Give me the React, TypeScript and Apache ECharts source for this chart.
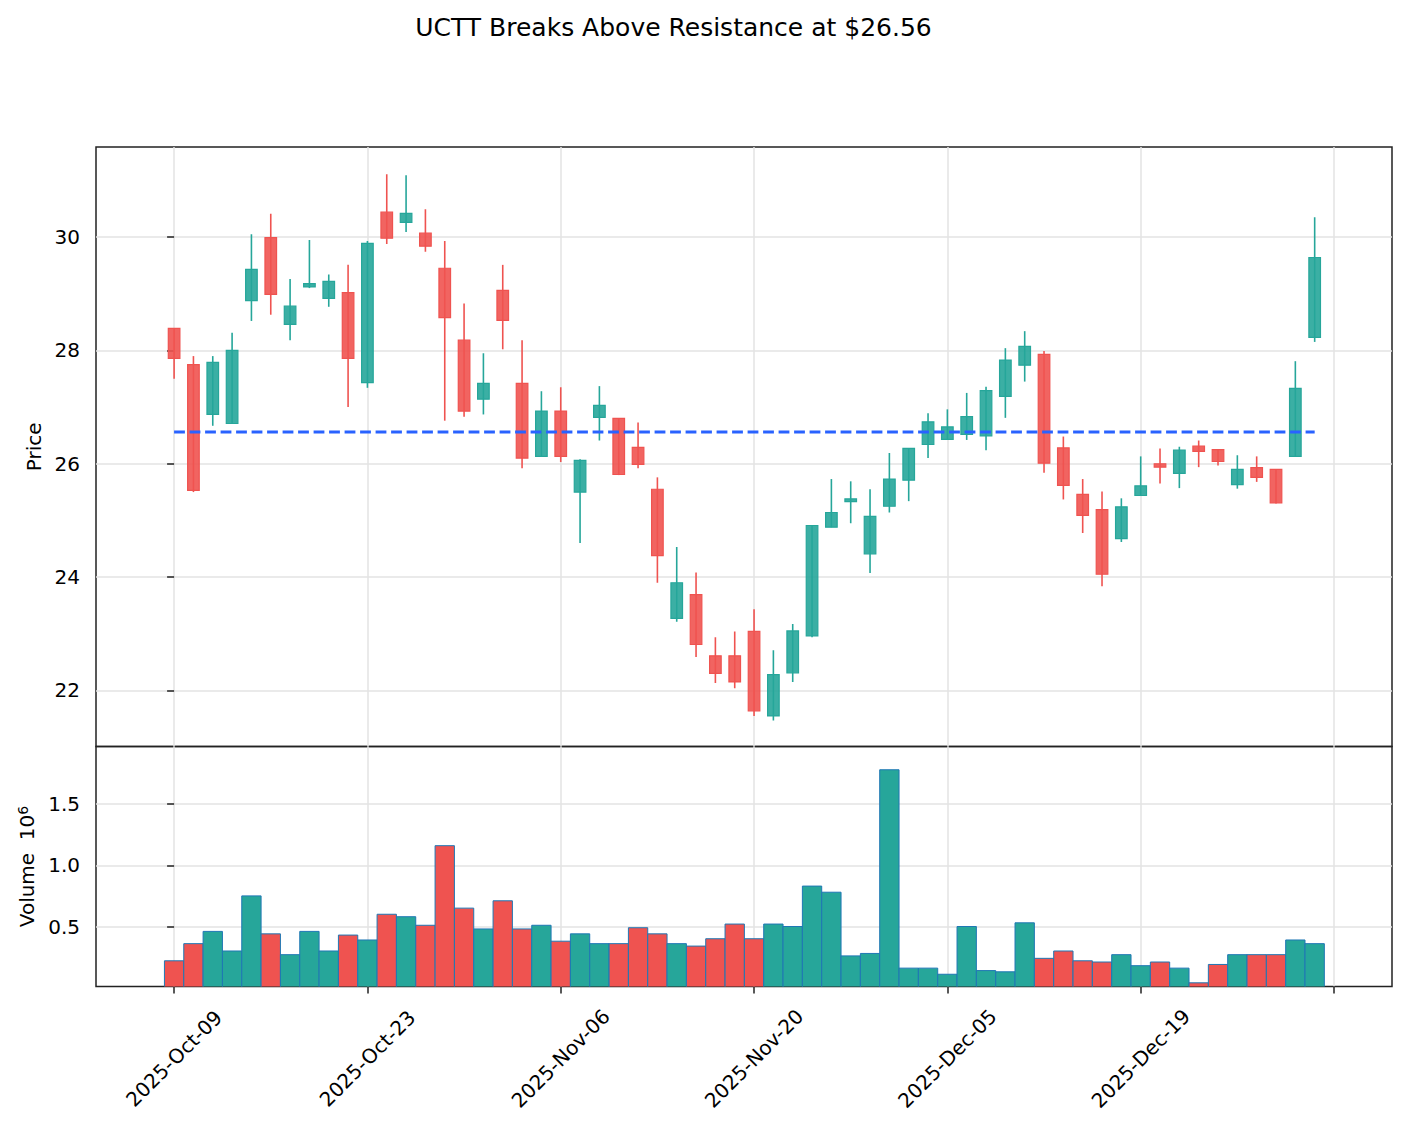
import React, { useEffect, useRef } from 'react';
import * as echarts from 'echarts';

const dates = [
  '2025-Oct-09', '2025-Oct-10', '2025-Oct-13', '2025-Oct-14', '2025-Oct-15', '2025-Oct-16', '2025-Oct-17', '2025-Oct-20', '2025-Oct-21', '2025-Oct-22',
  '2025-Oct-23', '2025-Oct-24', '2025-Oct-27', '2025-Oct-28', '2025-Oct-29', '2025-Oct-30', '2025-Oct-31', '2025-Nov-03', '2025-Nov-04', '2025-Nov-05',
  '2025-Nov-06', '2025-Nov-07', '2025-Nov-10', '2025-Nov-11', '2025-Nov-12', '2025-Nov-13', '2025-Nov-14', '2025-Nov-17', '2025-Nov-18', '2025-Nov-19',
  '2025-Nov-20', '2025-Nov-21', '2025-Nov-24', '2025-Nov-25', '2025-Nov-26', '2025-Nov-28', '2025-Dec-01', '2025-Dec-02', '2025-Dec-03', '2025-Dec-04',
  '2025-Dec-05', '2025-Dec-08', '2025-Dec-09', '2025-Dec-10', '2025-Dec-11', '2025-Dec-12', '2025-Dec-15', '2025-Dec-16', '2025-Dec-17', '2025-Dec-18',
  '2025-Dec-19', '2025-Dec-22', '2025-Dec-23', '2025-Dec-24', '2025-Dec-26', '2025-Dec-29', '2025-Dec-30', '2025-Dec-31', '2026-Jan-02', '2026-Jan-05',
];

const opens = [
  28.39, 27.75, 26.87, 26.71, 28.88, 29.99, 28.46, 29.12, 28.92, 29.02,
  27.43, 30.44, 30.26, 30.07, 29.45, 28.18, 27.14, 29.06, 27.42, 26.13,
  26.93, 25.50, 26.82, 26.80, 26.29, 25.55, 23.27, 23.69, 22.61, 22.61,
  23.04, 21.55, 22.31, 22.96, 24.88, 25.33, 24.41, 25.25, 25.71, 26.34,
  26.43, 26.52, 26.49, 27.19, 27.74, 27.93, 26.28, 25.46, 25.19, 24.68,
  25.44, 26.00, 25.83, 26.31, 26.25, 25.63, 25.93, 25.90, 26.13, 28.23,
];
const highs = [
  28.39, 27.90, 27.90, 28.31, 30.05, 30.41, 29.26, 29.95, 29.34, 29.51,
  29.93, 31.11, 31.09, 30.49, 29.93, 28.83, 27.95, 29.51, 28.18, 27.28,
  27.35, 26.08, 27.37, 26.80, 26.73, 25.76, 24.53, 24.08, 22.94, 23.04,
  23.43, 22.71, 23.17, 24.91, 25.73, 25.69, 25.55, 26.19, 26.27, 26.89,
  26.96, 27.25, 27.36, 28.04, 28.34, 27.99, 26.48, 25.73, 25.51, 25.39,
  26.13, 26.27, 26.30, 26.41, 26.25, 26.15, 26.13, 25.90, 27.81, 30.35,
];
const lows = [
  27.50, 25.50, 26.67, 26.71, 28.52, 28.63, 28.18, 29.10, 28.77, 27.00,
  27.34, 29.88, 30.09, 29.74, 26.76, 26.83, 26.87, 28.02, 25.92, 26.13,
  26.03, 24.60, 26.41, 25.80, 25.92, 23.90, 23.21, 22.59, 22.13, 22.04,
  21.55, 21.47, 22.15, 22.94, 24.88, 24.95, 24.07, 25.14, 25.34, 26.10,
  26.43, 26.42, 26.24, 26.81, 27.45, 25.84, 25.37, 24.78, 23.84, 24.62,
  25.44, 25.65, 25.57, 25.94, 25.97, 25.56, 25.68, 25.30, 26.13, 28.15,
];
const closes = [
  27.86, 25.53, 27.79, 28.00, 29.43, 28.99, 28.78, 29.18, 29.22, 27.86,
  29.89, 29.98, 30.42, 29.84, 28.58, 26.93, 27.42, 28.53, 26.10, 26.93,
  26.13, 26.06, 27.03, 25.81, 25.99, 24.38, 23.90, 22.81, 22.30, 22.15,
  21.64, 22.28, 23.05, 24.91, 25.14, 25.38, 25.07, 25.73, 26.27, 26.74,
  26.65, 26.83, 27.29, 27.83, 28.07, 26.01, 25.62, 25.09, 24.05, 25.24,
  25.61, 25.94, 26.24, 26.22, 26.04, 25.90, 25.76, 25.31, 27.33, 29.64,
];
// volume in millions (axis shows x 10^6)
const volumes = [
  0.22, 0.36, 0.46, 0.30, 0.75, 0.44, 0.27, 0.46, 0.30, 0.43,
  0.39, 0.60, 0.58, 0.51, 1.16, 0.65, 0.48, 0.71, 0.48, 0.51,
  0.38, 0.44, 0.36, 0.36, 0.49, 0.44, 0.36, 0.34, 0.40, 0.52,
  0.40, 0.52, 0.50, 0.83, 0.78, 0.26, 0.28, 1.78, 0.16, 0.16,
  0.11, 0.50, 0.14, 0.13, 0.53, 0.24, 0.30, 0.22, 0.21, 0.27,
  0.18, 0.21, 0.16, 0.04, 0.19, 0.27, 0.27, 0.27, 0.39, 0.36,
];
const resistance = 26.56;
const titleText = 'UCTT Breaks Above Resistance at $26.56';

const priceTicks = [22, 24, 26, 28, 30];
const volumeTicks = [0.5, 1.0, 1.5];
const xTickIdx = [0, 10, 20, 30, 40, 50, 60];
const xLabelIdx = [0, 10, 20, 30, 40, 50];

const UP = '#26a69a';
const DOWN = '#ef5350';
const UP_FILL = 'rgba(38,166,154,0.9)';
const DOWN_FILL = 'rgba(239,83,80,0.9)';
const FONT = 'DejaVu Sans';
const FS = 20;

export default function App() {
  const ref = useRef<HTMLDivElement>(null);
  useEffect(() => {
    if (!ref.current) return;
    const chart = echarts.init(ref.current, undefined, { renderer: 'svg' });
    const candleData = opens.map((o, i) => [i, o, closes[i], lows[i], highs[i]]);
    const volData = volumes.map((v, i) => [i, v, closes[i] >= opens[i] ? 1 : 0]);
    const lineData = [[0, resistance], [opens.length - 1, resistance]];

    const gridLine = { show: true, lineStyle: { color: '#e3e3e3', width: 1.5 } };
    const tickStyle = { color: '#222', width: 1.5 };

    chart.setOption({
      animation: false,
      backgroundColor: '#fff',
      graphic: [
        {
          type: 'text', x: 673.5, y: 27,
          style: { text: titleText, font: `25px "${FONT}"`, fill: '#000', textAlign: 'center', textVerticalAlign: 'middle' },
        },
      ],
      grid: [
        { left: 96, top: 147, width: 1296, height: 599.5, show: true, borderColor: '#222', borderWidth: 1.5, backgroundColor: 'transparent', containLabel: false },
        { left: 96, top: 746.5, width: 1296, height: 240, show: true, borderColor: '#222', borderWidth: 1.5, backgroundColor: 'transparent', containLabel: false },
      ],
      xAxis: [
        {
          type: 'value', gridIndex: 0, min: -4.04, max: 63.0,
          axisLine: { show: false }, axisTick: { show: false, customValues: xTickIdx },
          axisLabel: { show: false, customValues: xLabelIdx },
          splitLine: gridLine,
        },
        {
          type: 'value', gridIndex: 1, min: -4.04, max: 63.0,
          axisLine: { show: false },
          axisTick: { show: true, customValues: xTickIdx, length: 7, lineStyle: tickStyle },
          axisLabel: {
            show: true, customValues: xLabelIdx,
            formatter: (v: number) => dates[Math.round(v)] ?? '',
            rotate: 45, align: 'center', verticalAlign: 'middle', margin: 72,
            fontSize: FS, fontFamily: FONT, color: '#000',
          },
          splitLine: gridLine,
        },
      ],
      yAxis: [
        {
          type: 'value', gridIndex: 0, min: 21.01, max: 31.59, position: 'left',
          axisLine: { show: false },
          axisTick: { show: true, customValues: priceTicks, length: 7, lineStyle: tickStyle },
          axisLabel: {
            customValues: priceTicks, formatter: (v: number) => String(v),
            fontSize: FS, fontFamily: FONT, color: '#000', margin: 16,
          },
          splitLine: gridLine,
          name: 'Price', nameLocation: 'middle', nameGap: 50,
          nameTextStyle: { fontSize: FS, fontFamily: FONT, color: '#000', lineHeight: 20 },
        },
        {
          type: 'value', gridIndex: 1, min: 0.01, max: 1.97, position: 'left',
          axisLine: { show: false },
          axisTick: { show: true, customValues: volumeTicks, length: 7, lineStyle: tickStyle },
          axisLabel: {
            customValues: volumeTicks, formatter: (v: number) => v.toFixed(1),
            fontSize: FS, fontFamily: FONT, color: '#000', margin: 16,
          },
          splitLine: gridLine,
          name: '{a|Volume  10}{b|6}', nameLocation: 'middle', nameGap: 57,
          nameTextStyle: {
            color: '#000',
            rich: {
              a: { fontSize: FS, fontFamily: FONT, color: '#000', lineHeight: 22 },
              b: { fontSize: 14, fontFamily: FONT, color: '#000', lineHeight: 14, verticalAlign: 'top' },
            },
          },
        },
      ],
      series: [
        {
          type: 'custom', name: 'candles', xAxisIndex: 0, yAxisIndex: 0,
          data: candleData, encode: { x: 0, y: [1, 2, 3, 4] }, clip: true, z: 3,
          renderItem: (params: any, api: any) => {
            const i = api.value(0);
            const o = api.value(1);
            const c = api.value(2);
            const l = api.value(3);
            const h = api.value(4);
            const pO = api.coord([i, o]);
            const pC = api.coord([i, c]);
            const pL = api.coord([i, l]);
            const pH = api.coord([i, h]);
            const w = api.size([1, 0])[0] * 0.6;
            const up = c >= o;
            const col = up ? UP : DOWN;
            const top = Math.min(pO[1], pC[1]);
            const bot = Math.max(pO[1], pC[1]);
            return {
              type: 'group',
              children: [
                { type: 'line', shape: { x1: pH[0], y1: pH[1], x2: pL[0], y2: pL[1] }, style: { stroke: col, lineWidth: 1.6 } },
                { type: 'rect', shape: { x: pO[0] - w / 2, y: top, width: w, height: Math.max(bot - top, 1) }, style: { fill: up ? UP_FILL : DOWN_FILL, stroke: col, lineWidth: 1.2 } },
              ],
            };
          },
        },
        {
          type: 'line', name: 'resistance', xAxisIndex: 0, yAxisIndex: 0,
          data: lineData, symbol: 'none', z: 5,
          lineStyle: { color: '#2962ff', width: 2.9, type: [10.8, 4.7], cap: 'butt' },
        },
        {
          type: 'custom', name: 'volume', xAxisIndex: 1, yAxisIndex: 1,
          data: volData, encode: { x: 0, y: 1 }, clip: true, z: 3,
          renderItem: (params: any, api: any) => {
            const i = api.value(0);
            const v = api.value(1);
            const up = api.value(2) === 1;
            const p0 = api.coord([i, 0]);
            const p1 = api.coord([i, v]);
            const w = api.size([1, 0])[0];
            return {
              type: 'rect',
              shape: { x: p0[0] - w / 2, y: p1[1], width: w, height: p0[1] - p1[1] },
              style: { fill: up ? UP : DOWN, stroke: '#1f77b4', lineWidth: 1 },
            };
          },
        },
      ],
    });
    return () => chart.dispose();
  }, []);
  return <div ref={ref} style={{ position: 'absolute', left: 0, top: 0, width: 1407, height: 1126 }} />;
}
